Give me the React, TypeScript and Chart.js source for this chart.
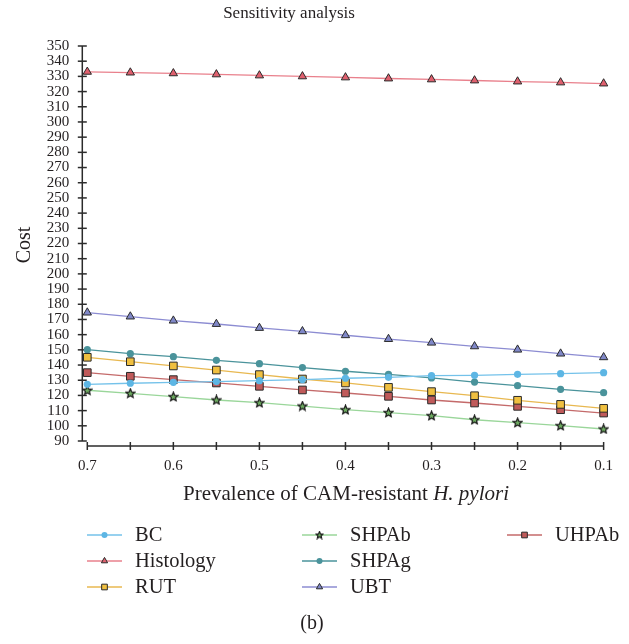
import React, { useEffect, useRef } from "react";
import { Chart, registerables } from "chart.js";
import { drawPoint } from "chart.js/helpers";

Chart.register(...registerables);

// ---- data ----
const prevalence = [0.7, 0.65, 0.6, 0.55, 0.5, 0.45, 0.4, 0.35, 0.3, 0.25, 0.2, 0.15, 0.1];
const bcCost = [127.3, 128.0, 128.6, 129.1, 129.7, 130.4, 131.3, 131.9, 133.0, 133.2, 133.9, 134.3, 135.0];
const histologyCost = [333.0, 332.5, 332.0, 331.3, 330.6, 330.0, 329.3, 328.6, 328.0, 327.3, 326.6, 326.0, 325.3];
const rutCost = [145.1, 142.2, 139.4, 136.7, 133.7, 130.8, 128.2, 125.3, 122.5, 119.8, 116.8, 114.1, 111.5];
const shpabCost = [123.4, 121.4, 119.2, 117.0, 115.2, 113.0, 110.6, 108.7, 106.7, 104.0, 102.1, 100.1, 97.9];
const shpagCost = [150.1, 147.5, 145.5, 143.1, 140.9, 138.3, 135.9, 133.9, 131.5, 128.8, 126.4, 124.0, 121.8];
const ubtCost = [174.5, 171.9, 169.2, 167.0, 164.4, 162.2, 159.6, 157.1, 154.7, 152.3, 150.1, 147.5, 145.1];
const uhpabCost = [135.0, 132.6, 130.4, 128.2, 126.0, 123.6, 121.6, 119.4, 117.0, 115.0, 112.8, 110.6, 108.4];

const seriesNames = ["BC", "Histology", "RUT", "SHPAb", "SHPAg", "UBT", "UHPAb"];
const xTickValues = [0.7, 0.6, 0.5, 0.4, 0.3, 0.2, 0.1];
const xTickLabels = ["0.7", "0.6", "0.5", "0.4", "0.3", "0.2", "0.1"];
const xMinorTicks = [0.7, 0.65, 0.6, 0.55, 0.5, 0.45, 0.4, 0.35, 0.3, 0.25, 0.2, 0.15, 0.1];
const yTickValues = [90, 100, 110, 120, 130, 140, 150, 160, 170, 180, 190, 200, 210, 220, 230, 240, 250, 260, 270, 280, 290, 300, 310, 320, 330, 340, 350];

const chartTitle = "Sensitivity analysis";
const yTitle = "Cost";
const xTitleParts = [
  { text: "Prevalence of CAM-resistant ", italic: false },
  { text: "H. pylori", italic: true },
];
const panelLabel = "(b)";

const FONT = "'Liberation Serif', 'DejaVu Serif', serif";
const TEXT = "#231f20";
const AXIS = "#2b2b2b";

function makeStar(size: number, fill: string) {
  const c = document.createElement("canvas");
  c.width = size;
  c.height = size;
  const g = c.getContext("2d")!;
  const cx = size / 2, cy = size / 2 + 0.3;
  const R = size / 2 - 0.8, r = R * 0.45;
  g.beginPath();
  for (let i = 0; i < 10; i++) {
    const a = -Math.PI / 2 + (i * Math.PI) / 5;
    const rad = i % 2 === 0 ? R : r;
    const px = cx + Math.cos(a) * rad, py = cy + Math.sin(a) * rad;
    if (i === 0) g.moveTo(px, py); else g.lineTo(px, py);
  }
  g.closePath();
  g.fillStyle = fill;
  g.fill();
  g.strokeStyle = "#1a1a1a";
  g.lineWidth = 1.2;
  g.stroke();
  return c;
}

export default function App() {
  const ref = useRef<HTMLCanvasElement | null>(null);

  useEffect(() => {
    document.body.style.margin = "0";
    const canvas = ref.current;
    if (!canvas) return;

    const star = makeStar(11, "#6fae62");
    const starSmall = makeStar(9, "#6fae62");

    const styles = [
      { line: "#74c2ea", fill: "#5db6e4", border: "#5db6e4", bw: 0, ps: "circle", r: 3.6, lr: 3 },
      { line: "#e9808c", fill: "#e0606e", border: "#2a2a2a", bw: 1, ps: "triangle", r: 4.8, lr: 3.6 },
      { line: "#e8b850", fill: "#f0c040", border: "#2a2a2a", bw: 1, ps: "rect", r: 5.4, lr: 4 },
      { line: "#9ad69a", fill: "#6fae62", border: "#2a2a2a", bw: 0, ps: star, r: 5, lr: 4, legendPs: starSmall },
      { line: "#4a939b", fill: "#4a939b", border: "#4a939b", bw: 0, ps: "circle", r: 3.6, lr: 3 },
      { line: "#8c8cd2", fill: "#8088c8", border: "#2a2a2a", bw: 1, ps: "triangle", r: 4.8, lr: 3.6 },
      { line: "#c46a6a", fill: "#c05a5a", border: "#2a2a2a", bw: 1, ps: "rect", r: 5.4, lr: 4 },
    ];
    const values = [bcCost, histologyCost, rutCost, shpabCost, shpagCost, ubtCost, uhpabCost];

    const datasets = seriesNames.map((name, i) => ({
      label: name,
      data: prevalence.map((x, j) => ({ x, y: values[i][j] })),
      borderColor: styles[i].line,
      borderWidth: 1.3,
      backgroundColor: styles[i].fill,
      pointBackgroundColor: styles[i].fill,
      pointBorderColor: styles[i].border,
      pointBorderWidth: styles[i].bw,
      pointStyle: styles[i].ps as any,
      pointRadius: styles[i].r,
      tension: 0,
      clip: false as any,
    }));

    const decor = {
      id: "decor",
      beforeDatasetsDraw(chart: any) {
        const { ctx, chartArea, scales } = chart;
        const xs = scales.x, ys = scales.y;
        const yAxisX = chartArea.left - 5;
        const xAxisY = chartArea.bottom + 5;
        ctx.save();
        ctx.strokeStyle = AXIS;
        ctx.lineWidth = 1.5;
        ctx.beginPath();
        ctx.moveTo(yAxisX, ys.getPixelForValue(350));
        ctx.lineTo(yAxisX, ys.getPixelForValue(90));
        ctx.stroke();
        yTickValues.forEach((v) => {
          const p = ys.getPixelForValue(v);
          ctx.beginPath();
          ctx.moveTo(yAxisX - 4.5, p);
          ctx.lineTo(yAxisX + 4.5, p);
          ctx.stroke();
        });
        ctx.beginPath();
        ctx.moveTo(xs.getPixelForValue(0.7), xAxisY);
        ctx.lineTo(xs.getPixelForValue(0.1), xAxisY);
        ctx.stroke();
        xMinorTicks.forEach((v) => {
          const p = xs.getPixelForValue(v);
          ctx.beginPath();
          ctx.moveTo(p, xAxisY - 4);
          ctx.lineTo(p, xAxisY + 4);
          ctx.stroke();
        });
        ctx.restore();
      },
      afterDraw(chart: any) {
        const { ctx } = chart;
        ctx.save();
        ctx.fillStyle = TEXT;
        ctx.textBaseline = "middle";
        // title
        ctx.font = `17px ${FONT}`;
        ctx.textAlign = "center";
        ctx.fillText(chartTitle, 289, 14);
        // y title
        ctx.save();
        ctx.translate(25, 245);
        ctx.rotate(-Math.PI / 2);
        ctx.font = `20px ${FONT}`;
        ctx.fillText(yTitle, 0, 0);
        ctx.restore();
        // x title
        ctx.textAlign = "left";
        let total = 0;
        const widths = xTitleParts.map((p) => {
          ctx.font = `${p.italic ? "italic " : ""}21px ${FONT}`;
          const w = ctx.measureText(p.text).width;
          total += w;
          return w;
        });
        let cx = 346 - total / 2;
        xTitleParts.forEach((p, i) => {
          ctx.font = `${p.italic ? "italic " : ""}21px ${FONT}`;
          ctx.fillText(p.text, cx, 494);
          cx += widths[i];
        });
        // legend
        const cols = [87, 302, 507];
        const rows = [535, 561, 587];
        seriesNames.forEach((name, i) => {
          const col = Math.floor(i / 3), row = i % 3;
          const lx = cols[col], ly = rows[row];
          const st = styles[i];
          ctx.strokeStyle = st.line;
          ctx.lineWidth = 1.3;
          ctx.beginPath();
          ctx.moveTo(lx, ly);
          ctx.lineTo(lx + 35, ly);
          ctx.stroke();
          ctx.fillStyle = st.fill;
          ctx.strokeStyle = st.border;
          ctx.lineWidth = st.bw;
          drawPoint(ctx, { pointStyle: (st as any).legendPs || st.ps, radius: st.lr, rotation: 0, borderWidth: st.bw } as any, lx + 17.5, ly);
          ctx.fillStyle = TEXT;
          ctx.font = `20.5px ${FONT}`;
          ctx.textAlign = "left";
          ctx.fillText(name, lx + 48, ly + 1);
        });
        // panel label
        ctx.textAlign = "center";
        ctx.font = `20px ${FONT}`;
        ctx.fillText(panelLabel, 312, 624);
        ctx.restore();
      },
    };

    const chart = new Chart(canvas, {
      type: "line",
      data: { datasets: datasets as any },
      options: {
        animation: false,
        responsive: false,
        layout: { padding: { top: 46, right: 25, left: 0, bottom: 0 } },
        plugins: { legend: { display: false }, title: { display: false }, tooltip: { enabled: false } },
        scales: {
          x: {
            type: "linear",
            reverse: true,
            min: 0.1,
            max: 0.7,
            grid: { display: false, drawTicks: false },
            border: { display: false },
            afterBuildTicks: (s: any) => {
              s.ticks = xTickValues.map((value) => ({ value }));
            },
            afterFit: (s: any) => {
              s.height = 203;
            },
            ticks: {
              padding: 16,
              maxRotation: 0,
              autoSkip: false,
              color: TEXT,
              font: { family: FONT, size: 15 },
              callback: (_v: any, i: number) => xTickLabels[i],
            },
          },
          y: {
            type: "linear",
            min: 90,
            max: 350,
            grid: { display: false, drawTicks: false },
            border: { display: false },
            afterBuildTicks: (s: any) => {
              s.ticks = yTickValues.map((value) => ({ value }));
            },
            afterFit: (s: any) => {
              s.width = 87.3;
            },
            ticks: {
              padding: 18,
              autoSkip: false,
              color: TEXT,
              font: { family: FONT, size: 15 },
              callback: (v: any) => String(v),
            },
          },
        },
      },
      plugins: [decor],
    });

    return () => chart.destroy();
  }, []);

  return (
    <div style={{ width: 629, height: 644 }}>
      <canvas ref={ref} width={629} height={644} style={{ display: "block" }} />
    </div>
  );
}
